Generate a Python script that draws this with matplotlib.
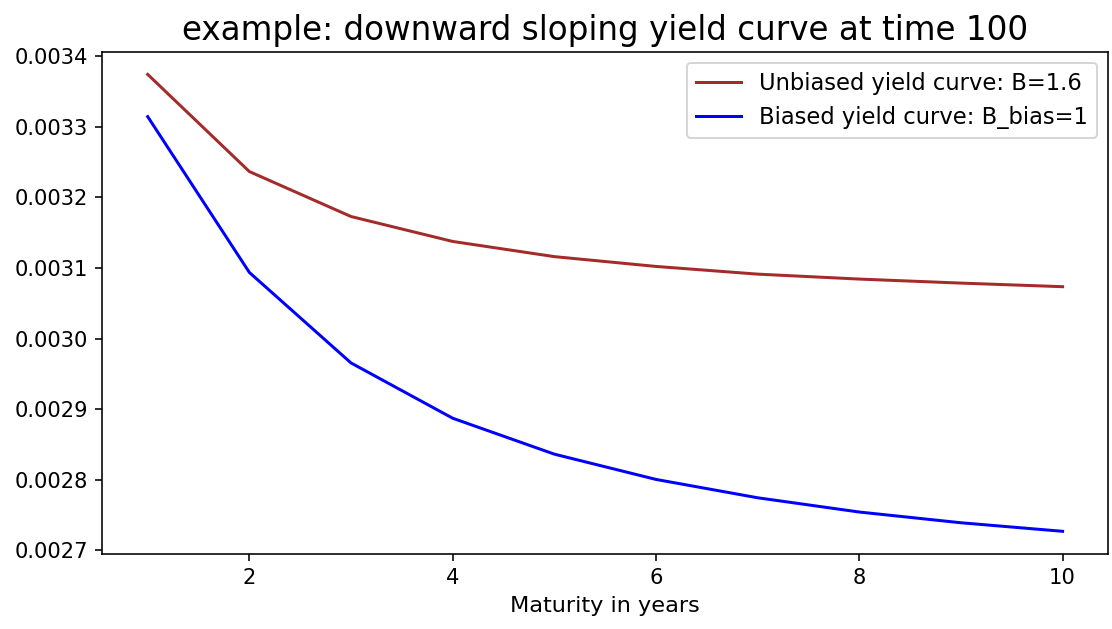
import matplotlib
matplotlib.use("Agg")
import matplotlib.pyplot as plt

maturities = [1, 2, 3, 4, 5, 6, 7, 8, 9, 10]
unbiased = [0.0033741, 0.0032365, 0.0031728, 0.0031375, 0.0031160,
            0.0031021, 0.0030912, 0.0030842, 0.0030785, 0.0030734]
biased = [0.0033143, 0.0030936, 0.0029654, 0.0028871, 0.0028362,
          0.0028004, 0.0027744, 0.0027542, 0.0027390, 0.0027269]

dpi = 144
fig = plt.figure(figsize=(1112 / dpi, 629 / dpi), dpi=dpi)
ax = fig.add_axes([0.0917, 0.119, 0.905, 0.799])

ax.plot(maturities, unbiased, color="brown", label="Unbiased yield curve: B=1.6")
ax.plot(maturities, biased, color="blue", label="Biased yield curve: B_bias=1")
ax.set_title("example: downward sloping yield curve at time 100", fontsize=16.3)
ax.set_xlabel("Maturity in years", fontsize=11.2)
ax.tick_params(labelsize=10.5)
ax.legend(loc="upper right", fontsize=11.3)

fig.savefig("out.png", dpi=dpi)
